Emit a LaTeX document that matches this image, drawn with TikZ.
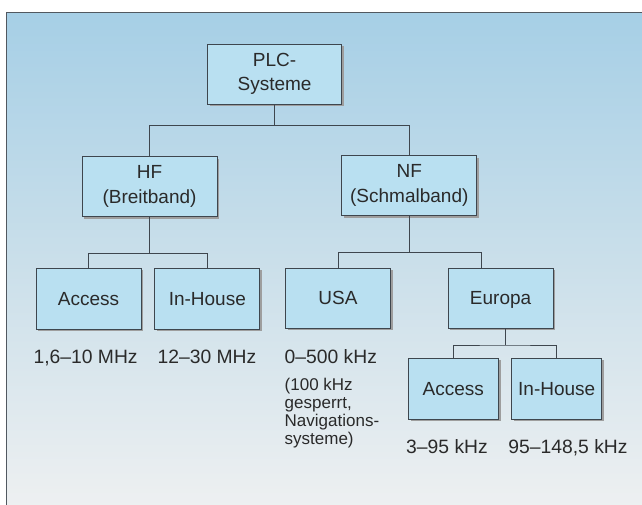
\documentclass[tikz,border=0pt]{standalone}
\usepackage{fontspec}
\setmainfont{Liberation Sans}
\usetikzlibrary{shadows,calc}
\definecolor{boxblue}{HTML}{B9E0F1}
\definecolor{boxline}{HTML}{3E464E}
\definecolor{bgtop}{HTML}{A6CFE6}
\definecolor{bgmid}{HTML}{CADFEA}
\definecolor{bgbot}{HTML}{EEF0F1}
\definecolor{txt}{HTML}{2A2A2A}
\tikzset{
  box/.style={draw=boxline, fill=boxblue, line width=0.8pt, align=center,
    inner sep=0pt, text=txt,
    font=\fontsize{19}{24.6}\selectfont,
    drop shadow={shadow xshift=2.2pt, shadow yshift=-2.2pt, fill=black!38, opacity=1}},
  single/.style={text depth=0pt},
  conn/.style={draw=boxline, line width=0.9pt},
  lab/.style={inner sep=0pt, text=txt, font=\fontsize{19.3}{23}\selectfont},
  note/.style={inner sep=0pt, text=txt, align=left, font=\fontsize{17}{18}\selectfont},
}
\begin{document}
\begin{tikzpicture}[x=1pt,y=-1pt]
\useasboundingbox (0,0) rectangle (642,504);
\fill[white] (0,0) rectangle (642,504);
\shade[top color=bgtop, bottom color=bgbot, middle color=bgmid] (6,12) rectangle (650,510);
\draw[boxline!90, line width=1pt] (650,12) -- (6,12) -- (6,510);

% boxes
\node[box, minimum width=134pt, minimum height=60pt] (plc) at (274.6,74) {PLC-\\Systeme};
\node[box, minimum width=135pt, minimum height=60pt] (hf) at (149.5,186.5) {HF\\(Breitband)};
\node[box, minimum width=135pt, minimum height=60pt] (nf) at (409.3,185.5) {NF\\(Schmalband)};
\node[box, single, minimum width=105pt, minimum height=61pt] (acc1) at (88.5,298.5) {Access};
\node[box, single, minimum width=105pt, minimum height=61pt] (inh1) at (207.3,298.5) {In-House};
\node[box, single, minimum width=105pt, minimum height=60pt] (usa) at (338,298) {USA};
\node[box, single, minimum width=105pt, minimum height=60pt] (eur) at (500.6,298) {Europa};
\node[box, single, minimum width=90pt, minimum height=61pt] (acc2) at (453.3,388.6) {Access};
\node[box, single, minimum width=90pt, minimum height=61pt] (inh2) at (556.7,388.6) {In-House};

% junctions
\coordinate (j1) at (274.6,125.7);
\coordinate (j2) at (149.5,253.3);
\coordinate (j3) at (409.3,252.3);
\coordinate (j4) at (505,345);
\coordinate (eurin) at ($(eur.north west)!0.32!(eur.north east)$);

\draw[conn] (plc.south) -- (j1);
\draw[conn] (hf.north) |- (j1) -| (nf.north);
\draw[conn] (hf.south) -- (j2);
\draw[conn] (acc1.north) |- (j2) -| (inh1.north);
\draw[conn] (nf.south) -- (j3);
\draw[conn] (usa.north) |- (j3) -| (eurin);
\draw[conn] (eur.south -| j4) -- (j4);
\draw[conn] (acc2.north) |- (j4) -| (inh2.north);

% labels
\node[lab, anchor=base] (l1) at (85.6,363.3) {1,6–10 MHz};
\node[lab, anchor=base] (l2) at (207,363.3) {12–30 MHz};
\node[lab, anchor=base west] (l3) at (284.5,363.3) {0–500 kHz};
\node[note, anchor=north west] (l3n) at (284.5,377.6) {(100 kHz\\gesperrt,\\Navigations-\\systeme)};
\node[lab, anchor=base] (l4) at (447,453.3) {3–95 kHz};
\node[lab, anchor=base] (l5) at (568,453.3) {95–148,5 kHz};
\end{tikzpicture}
\end{document}
